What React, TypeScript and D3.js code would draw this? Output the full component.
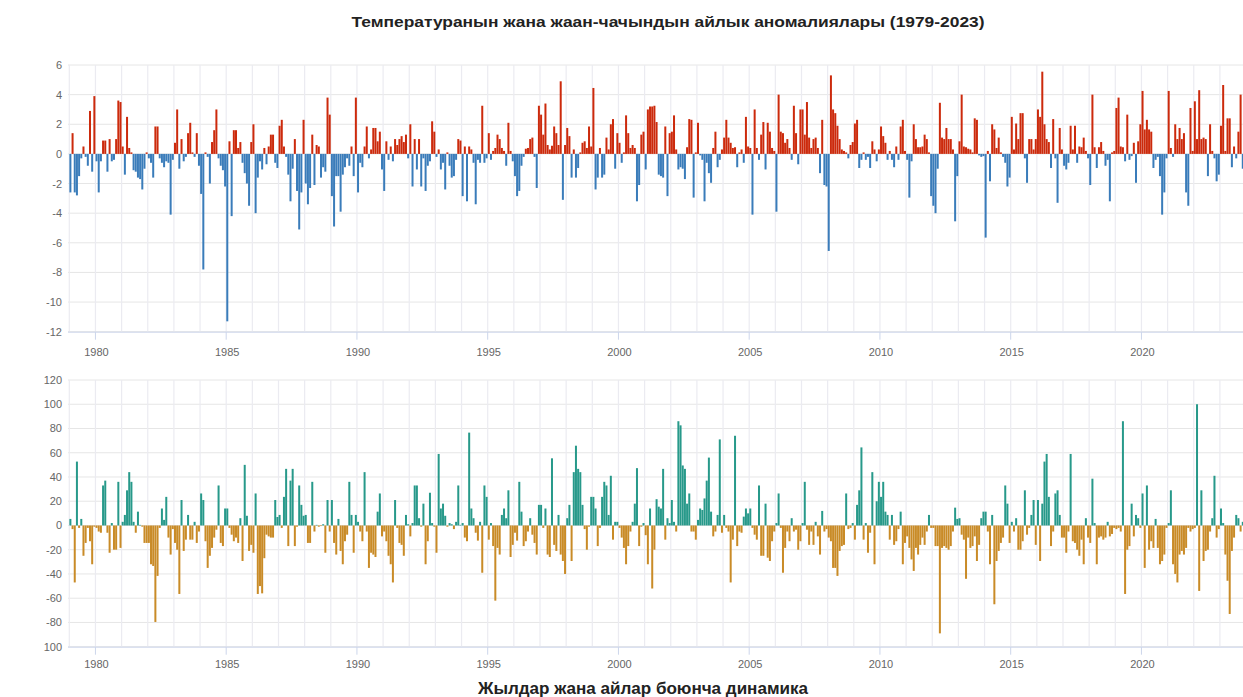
import React from 'react';
import * as d3 from 'd3';

// monthly anomalies, one row per year (Jan..Dec), 1979-2023
const years = d3.range(1979, 2024);

const tempByYear: number[][] = [
  [-2.6, 1.4, -2.6, -2.8, -1.5, -0.3, 0.5, -0.2, -0.8, 2.9, -1.2, 3.9],
  [-0.5, -2.6, -0.5, 0.9, 0.9, -1.2, 1.0, -0.5, -0.4, 1.0, 3.6, 3.5],
  [0.5, -1.4, 2.5, 0.4, 0.1, -1.1, -1.2, -1.6, -1.7, -2.4, -1.0, 0.1],
  [-0.3, -0.6, -1.6, 1.85, 1.85, -0.3, -0.6, -0.9, -0.5, -0.6, -4.1, -0.4],
  [0.75, 3.0, -1.0, 1.0, -0.5, -0.2, 1.4, 2.1, 0.1, -0.2, 1.4, -0.8],
  [-2.7, -7.8, 0.1, -0.2, -2.0, 0.8, 1.6, 3.0, -0.3, -0.8, -1.1, -2.2],
  [-11.3, 0.85, -4.2, 1.6, 1.6, 0.4, 0.8, -0.6, -1.3, -2.0, -3.5, 0.8],
  [2.0, -4.0, -1.6, -0.5, -1.05, 0.4, -0.7, 0.5, 1.3, 1.3, -0.6, -0.95],
  [1.9, 2.3, 0.5, -0.2, -1.4, -3.2, -1.0, 1.0, -2.5, -5.1, -2.6, 2.3],
  [-2.0, -3.4, -2.3, 1.3, -2.1, 0.6, 0.5, -1.6, -0.9, -1.2, 3.8, 2.65],
  [-2.85, -4.9, -1.5, -1.5, -3.9, -1.4, -0.9, -0.3, -0.8, 0.5, -1.5, 3.8],
  [-2.6, -0.6, -0.9, 0.5, 1.85, -0.3, 0.3, 1.75, 1.75, 0.85, 1.5, -1.05],
  [-2.5, 0.85, -0.4, 0.5, -0.5, 1.0, 0.6, 1.0, 1.2, 0.8, 1.3, -0.3],
  [2.0, -2.2, 1.0, -1.05, 1.0, -2.2, -0.3, -2.5, -0.8, -0.5, 2.2, 1.5],
  [-0.2, 0.3, -1.05, -0.6, -2.4, 0.1, -0.8, -1.6, -1.5, -0.4, 1.0, 0.9],
  [-2.85, 0.5, -3.2, 0.5, 0.3, -0.6, -3.4, -0.4, -0.6, 3.25, -0.6, -0.3],
  [1.4, -0.4, 0.2, 0.4, 1.3, 1.0, 0.4, 0.2, -0.8, 2.1, 0.2, -0.5],
  [-1.5, -2.85, -2.5, -0.8, -0.2, 0.35, 0.4, 1.0, 1.1, -0.2, -2.3, 3.25],
  [2.65, 1.3, 3.4, 0.6, 0.3, 0.55, 1.85, 1.4, 0.6, 4.9, -3.1, 0.6],
  [1.75, 1.2, -1.6, 0.3, -1.6, -0.95, 0.1, 0.75, 0.85, 0.4, 1.85, 0.5],
  [4.45, -2.4, -1.6, 0.4, -1.6, -1.4, 1.1, 0.3, 2.0, 2.35, -1.0, 1.4],
  [0.75, -0.6, 0.1, 2.6, 1.4, 0.4, 0.6, 0.4, -3.2, -2.1, 1.3, 1.5],
  [-1.05, 3.0, 3.2, 3.2, 3.25, 2.15, -1.4, -1.5, -1.6, 1.85, -2.85, 1.4],
  [1.5, 2.6, 0.3, -1.05, -0.9, -1.0, -1.7, 0.45, 2.35, 2.3, -2.95, 0.1],
  [2.1, -0.1, -0.4, -3.2, -0.6, -1.3, -1.95, 0.4, 1.5, -0.9, -0.4, 0.3],
  [1.1, 2.3, 1.1, 0.75, 0.4, 0.45, -0.9, 0.1, 0.3, -0.6, 2.5, 0.5],
  [0.4, -4.1, 3.0, 0.4, -0.4, 1.3, 2.15, -1.05, 2.1, 1.5, 0.4, 0.2],
  [-3.9, 4.0, 1.5, 1.4, 0.75, 1.0, 0.4, -0.4, 3.25, 1.4, -0.7, 3.0],
  [3.0, 1.3, 3.5, 1.1, 0.4, 1.0, 1.1, 0.4, -1.3, 2.3, -2.1, -2.2],
  [-6.55, 5.3, 3.0, 2.75, 1.9, 1.0, 0.3, 0.2, 0.1, -0.3, 0.6, 0.8],
  [2.05, 2.3, -0.95, -0.4, 0.1, -0.4, -0.2, -0.95, 0.85, 0.3, -0.5, 0.3],
  [1.85, 1.2, 0.75, -0.4, 0.2, -0.4, -0.9, 0.5, -0.4, 1.85, 2.3, 0.2],
  [-0.4, -2.95, -0.5, 2.0, 1.0, 0.45, 0.45, 0.5, 1.3, 1.0, 0.1, -2.85],
  [-3.5, -4.0, -1.0, 3.45, 1.1, 1.0, 1.75, 1.0, 1.0, 0.3, -4.55, -1.5],
  [0.85, 4.0, 0.5, 0.45, 0.35, 0.3, 0.1, 2.4, 2.3, -0.1, -0.2, -0.15],
  [-5.65, 0.2, -1.85, 2.0, 1.65, 0.4, 1.1, 0.1, -0.2, -0.6, -2.2, -1.6],
  [2.5, 0.3, 2.05, 1.0, 2.75, 2.75, -0.3, -1.95, 1.0, 1.0, 0.3, 1.0],
  [3.0, 2.5, 5.55, 2.0, 1.0, 0.8, -0.95, 2.35, -0.3, -3.3, 1.75, 0.3],
  [-0.8, -1.05, -0.6, 1.9, 0.3, 1.9, -0.6, 0.5, 0.45, 1.1, 0.2, -0.3],
  [-2.1, 4.0, 0.45, -0.95, 0.45, 0.8, 0.2, -0.8, -0.4, -3.2, 0.1, 0.2],
  [3.1, 3.8, 0.5, 0.45, -0.5, 2.65, -0.4, -0.15, 0.75, -1.95, 0.85, 2.0],
  [4.25, 1.65, 2.3, 1.65, 1.5, -0.95, -0.4, -0.2, -1.5, -4.1, -2.6, -0.3],
  [4.25, 0.4, -0.2, 2.0, 1.0, 1.75, 1.0, 1.4, -2.6, -3.5, 3.1, 0.2],
  [3.55, 1.0, 4.3, 1.0, 1.1, 1.0, -1.5, 2.0, 0.2, -0.3, -1.85, -1.4],
  [1.9, 4.65, 0.2, 2.4, 2.4, -0.9, 0.5, -0.3, 1.5, 4.0, -1.0, 1.0],
];

const precipByYear: number[][] = [
  [5.4, -3, -47, 52.7, -2, 5.4, -25, -14.4, -2, -13, -32, -1],
  [-2, -5, -6, 33, 37, -6, -22.5, 2, -20, -20, 36, -18.5],
  [3, 8.7, 29, 44, 36, 3, -6, 11.4, 0.5, -1, -14.4, -14.4],
  [-14.4, -32, -33.4, -79.6, -41.6, -2, 14, 4.6, 23.6, -10, -24, -3],
  [-14.4, -20, -56.5, 21, -21, -11.7, 8.7, -11.7, -11.7, 3, -14.4, -5],
  [26.4, 21, -13, -35, -25, -18.5, -10, -3.5, 33, -14.4, -17, 14],
  [14, -2, -7.6, -13, -10, -14.4, 6, -29.3, 50, 8, -21, -16],
  [-22.5, 26.4, -56.5, -50, -56, -27, -7.6, -9, -10, -10, 21, 7],
  [8.7, -2, 23.6, 46.7, -17, 37, 46.7, -17, -1, 33, 17, 8],
  [8.7, -14.4, -14.4, 36, -5, 0.5, -1, -0.5, 1, -22.5, 21, -5],
  [21, -14.4, -24, 5.4, -21, -32, -13, -7.6, 36, 8.7, -22.5, 8.7],
  [3, -5, -13, 44, -5, -35, -22.5, -24, -26, 11.4, 26.4, -9],
  [-5, -13, -25, -32, -47, 21, -2, -14.4, -16, -25, 8.7, 1],
  [-9, 2, 33, 33, 6, -1, 18, -32, -13, 27, 2, -1],
  [-22.5, 59, 14, 18, 8, -1, 2, 1, -3, 3, 33, 0.5],
  [2, -10, -13, 76.6, 14, 6, -6, -12.5, 3, -39, 33, 23.6],
  [-11.7, 2, -17, -62, -18.5, -24, 8.7, 14, 6, 29, -26, -16],
  [-6, -12.5, 36, 11.4, -17, -13, -5, 6, -7.6, -14.4, -24, 17],
  [17, -2, 14, -24, -26, 55.4, -16, -21, 8.7, -24, -29.3, -40],
  [6, 17, -29.3, 44, 65.8, 46.7, 44, 17, -3, -20, -1, 23.6],
  [23.6, 14, -17, -2, 23.6, 36, 33, 8.7, 41, -11.7, 3, 3],
  [-2, -10, -18.5, -32, -17, -5, 3, 18, 47.3, -17, -1, 2],
  [-8, -32, 14, -52, -20, 21.7, 15.5, 14, 46.7, -11.7, 6, 2],
  [21, 3, -5, 86, 82.6, 49.5, 46.7, 18, 26.4, -5, -5, -11.7],
  [4.6, 14, 12.8, 22.3, 37, 56, 11.4, -9, -5, 8.7, 71, -6],
  [8.7, -2, -5, -47, -11.7, 74, -17, -5, -6, 7.3, 14, 10],
  [14, -2, -7.6, -11.7, 33, -25, -25, 18, -26.6, -29.3, -13, -5],
  [2, 26.4, -2, -39, -18.5, -5, -13, 6, -5, -3.5, -20, -13],
  [2, 36, -3.5, -16, -5, -16, 3, -9, -24, 12, -5, -3],
  [-10, -13, -35, -35, -41.6, -21, -17, -16, 26.4, -3, -2, 2],
  [-11.7, 17, 29, 64.4, -11.7, 2, -22.5, -6, 44, -32, 20, 36],
  [23.6, 36, 11.4, 8.7, -11.7, 8.7, -16, -13, -3, 11.4, -32, -14.4],
  [-9, -18.5, -28, -37.5, -18.5, -24, -16, -10, -16, -5, 8.7, -2],
  [-2, -17, -17, -89, -18.5, -17, -18.5, -20, -17, -5, 14.7, 5.4],
  [6, -7.6, -11.7, -44, -10, -18.5, -17, -9, -29.3, -16, 6, 11.4],
  [11.4, -5, -32, 8.7, -65, -29.3, -21, -14.4, -10, 33, 18, -14.4],
  [3, -5, 6, -20, -20, -13, 29, -7.6, -2, 8.7, 21, -16],
  [21, -29.3, 18, 52.7, 59, 23.6, -17, -5, 26.4, 29, 8.7, -10],
  [-10, -22.5, -5, 59, -13, -14.4, -20, -25, -11.7, -32, 6, -10],
  [-14.4, 38.6, 2, -32, -10, -9, -11.7, -10, 3, -9, -7, -2],
  [-3, -2, -5, 86, -56.5, -20, -17, 18, -9, 8.7, 6, -2],
  [26.4, -35, 33, -20, -13, -18.5, 5.4, -18.5, -32, -29.3, -24, -2],
  [2, 29, -32, -40, -47, -24, -21, -24, -18.5, -2, -5, -3],
  [-2, 100, -54, 29, -29.3, -21, -20, -5, 6, 41, -10, -3],
  [14, 2, -24, -45.6, -73, -21, -10, 8.7, 6, -5, 3, 2],
];

const tempTicks = [6, 4, 2, 0, -2, -4, -6, -8, -10, -12];
const precipTicks = [120, 100, 80, 60, 40, 20, 0, -20, -40, -60, -80, -100];
// the source prints the lowest precipitation tick without its minus sign
const precipTickLabels = ['120', '100', '80', '60', '40', '20', '0', '-20', '-40', '-60', '-80', '100'];
const yearLabels = [1980, 1985, 1990, 1995, 2000, 2005, 2010, 2015, 2020];

const title = 'Температуранын жана жаан-чачындын айлык аномалиялары (1979-2023)';
const xTitle = 'Жылдар жана айлар боюнча динамика';

const W = 1243;
const H = 697;
const FONT = '"Liberation Sans", Arial, sans-serif';

const monthly = (rows: number[][]) => rows.flatMap((r, yi) =>
  r.map((v, m) => ({ t: years[yi] + m / 12, v })));

const x = d3.scaleLinear().domain([1979, 2024]).range([69.3, 69.3 + 45 * 26.15]);
const plotLeft = 68;
const plotRight = W;
const barW = 2.0;

function Panel({ data, y, ticks, tickLabels, posColor, negColor, labelY, id }: any) {
  const [y0, y1] = y.range();
  const top = Math.min(y0, y1);
  const bottom = Math.max(y0, y1);
  const step = x(1979 + 1 / 12) - x(1979);
  return (
    <g>
      <defs>
        <clipPath id={id}>
          <rect x={plotLeft} y={top - 1} width={plotRight - plotLeft} height={bottom - top + 2} />
        </clipPath>
      </defs>
      {ticks.map((t: number) => (
        <line key={`h${t}`} x1={plotLeft} x2={plotRight} y1={y(t)} y2={y(t)} stroke="#e6e6e6" strokeWidth={1} />
      ))}
      {years.concat([2024]).map((yr) => (
        <line key={`v${yr}`} x1={x(yr)} x2={x(yr)} y1={top} y2={bottom} stroke="#ebebf1" strokeWidth={1.2} />
      ))}
      <g clipPath={`url(#${id})`}>
        {data.map((d: any, i: number) => {
          const cx = x(d.t) + step / 2;
          return (
            <rect
              key={i}
              x={cx - barW / 2}
              width={barW}
              y={d.v >= 0 ? y(d.v) : y(0)}
              height={Math.abs(y(d.v) - y(0))}
              fill={d.v >= 0 ? posColor : negColor}
            />
          );
        })}
      </g>
      <line x1={plotLeft} x2={plotRight} y1={bottom + 0.5} y2={bottom + 0.5} stroke="#ccd6eb" strokeWidth={1} />
      {yearLabels.map((yr) => (
        <g key={`t${yr}`}>
          <line x1={x(yr)} x2={x(yr)} y1={bottom} y2={bottom + 8} stroke="#ccd6eb" />
          <text x={x(yr) + 1} y={labelY} textAnchor="middle" fontSize={11} fill="#666" fontFamily={FONT}>{yr}</text>
        </g>
      ))}
      {ticks.map((t: number, i: number) => (
        <text key={`l${t}`} x={62} y={y(t) + 4} textAnchor="end" fontSize={11} fill="#666" fontFamily={FONT}>
          {tickLabels ? tickLabels[i] : t}
        </text>
      ))}
    </g>
  );
}

export default function App() {
  const tempData = monthly(tempByYear);
  const precipData = monthly(precipByYear);
  const yTemp = d3.scaleLinear().domain([-12, 6]).range([331.7, 65]);
  const yPrecip = d3.scaleLinear().domain([-100, 120]).range([646.7, 380]);

  return (
    <svg width={W} height={H} style={{ position: 'absolute', left: 0, top: 0, background: '#fff' }}>
      <rect width={W} height={H} fill="#fff" />
      <text x={668} y={27} textAnchor="middle" fontSize={15} fontWeight="bold" fill="#222" fontFamily={FONT}
        textLength={633} lengthAdjust="spacingAndGlyphs">{title}</text>
      <Panel id="clipT" data={tempData} y={yTemp} ticks={tempTicks} posColor="#cc2a0c" negColor="#3a7cba" labelY={356} />
      <Panel id="clipP" data={precipData} y={yPrecip} ticks={precipTicks} tickLabels={precipTickLabels}
        posColor="#27998a" negColor="#c98b27" labelY={668} />
      <text x={643} y={694} textAnchor="middle" fontSize={16} fontWeight="bold" fill="#222" fontFamily={FONT}
        textLength={330} lengthAdjust="spacingAndGlyphs">{xTitle}</text>
    </svg>
  );
}
